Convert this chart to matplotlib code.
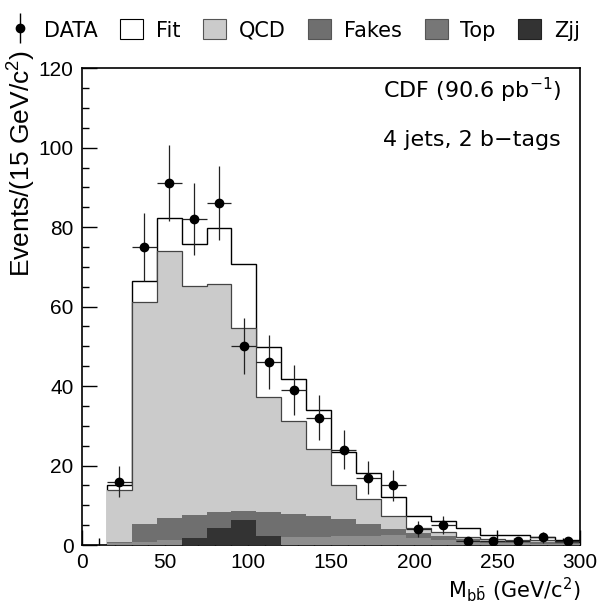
import numpy as np
import matplotlib
matplotlib.use("Agg")
import matplotlib.pyplot as plt
from matplotlib.patches import Patch
from matplotlib.container import ErrorbarContainer
from matplotlib.legend_handler import HandlerErrorbar

# 15 GeV bins from 15 to 300 GeV/c^2
edges = np.arange(15, 301, 15)
data = [16, 75, 91, 82, 86, 50, 46, 39, 32, 24, 17, 15, 4, 5, 1, 1, 1, 2, 1]

# heights of each drawn histogram (each drawn from zero, overlaid)
fit = [15.0, 66.5, 82.2, 75.8, 79.8, 70.7, 49.8, 41.7, 34.1, 23.5, 18.2, 12.0,
       7.2, 6.0, 4.3, 2.5, 2.5, 2.0, 1.3]
qcd = [13.9, 61.1, 73.9, 65.2, 65.7, 54.5, 37.2, 31.1, 24.2, 15.1, 11.7, 7.2,
       4.3, 3.2, 2.0, 1.5, 1.3, 1.2, 0.8]
fakes = [0.8, 5.2, 6.8, 7.7, 8.4, 8.7, 8.4, 7.8, 7.4, 6.6, 5.3, 4.1,
         3.1, 2.2, 1.5, 1.0, 0.8, 0.7, 0.5]
top = [0.5, 0.7, 1.4, 1.6, 1.8, 1.9, 2.0, 2.0, 2.0, 2.2, 2.3, 2.5,
       1.8, 1.2, 0.9, 0.6, 0.5, 0.4, 0.3]
zjj = [0, 0, 0, 1.7, 4.3, 6.2, 2.2, 0, 0, 0, 0, 0, 0, 0, 0, 0, 0, 0, 0]

c_qcd, c_fakes, c_top, c_zjj = "#cbcbcb", "#6f6f6f", "#8e8e8e", "#333333"

fig = plt.figure(figsize=(6.08, 6.03), dpi=100)
ax = fig.add_axes([0.135, 0.096, 0.819, 0.791])

ax.stairs(fit, edges, baseline=0, fill=True, facecolor="white", zorder=1)
ax.stairs(fit, edges, baseline=0, color="black", lw=1.0, zorder=1.1)
ax.stairs(qcd, edges, baseline=0, fill=True, facecolor=c_qcd, zorder=2)
ax.stairs(qcd, edges, baseline=None, color="#444444", lw=0.9, zorder=2.1)
ax.stairs(fakes, edges, baseline=0, fill=True, facecolor=c_fakes, zorder=3)
ax.stairs(top, edges, baseline=0, fill=True, facecolor=c_top, zorder=4)
ax.stairs(zjj, edges, baseline=0, fill=True, facecolor=c_zjj, zorder=5)

centers = (edges[:-1] + edges[1:]) / 2
ax.errorbar(centers, data, yerr=np.sqrt(data), xerr=7.5, fmt="o", color="black",
            ecolor="#222222", elinewidth=0.9, ms=6, capsize=0, zorder=6)

ax.set_xlim(0, 300)
ax.set_ylim(0, 120)
ax.set_xticks(np.arange(0, 301, 50))
ax.set_xticks(np.arange(0, 301, 10), minor=True)
ax.set_yticks(np.arange(0, 121, 20))
ax.set_yticks(np.arange(0, 121, 5), minor=True)
ax.tick_params(which="both", direction="in", top=False, right=False)
ax.tick_params(which="major", length=11, width=1, labelsize=15, pad=6)
ax.tick_params(which="minor", length=5, width=1)
for lab in ax.get_xticklabels() + ax.get_yticklabels():
    lab.set_family("Liberation Sans")
for s in ax.spines.values():
    s.set_linewidth(1.2)

ax.set_xlabel(r"M$_{\mathregular{b\bar{b}}}$ (GeV/c$^{\mathregular{2}}$)", fontsize=15,
              loc="right", labelpad=2)
fig.text(0.033, 1 - 50 / 603, r"Events/(15 GeV/c$^{\mathregular{2}}$)", rotation=90,
         ha="center", va="top", fontsize=19, family="Liberation Sans")

ax.text(181, 114.3, r"CDF (90.6 pb$^{\mathregular{-1}}$)", fontsize=16, va="center")
ax.text(181, 101.8, "4 jets, 2 b\u2212tags", fontsize=16, va="center")

data_h = ax.errorbar([], [], yerr=[], fmt="o", color="black", ms=6, elinewidth=1)
handles = [
    data_h,
    Patch(facecolor="white", edgecolor="black", lw=0.8),
    Patch(facecolor=c_qcd, edgecolor="#555555", lw=0.8),
    Patch(facecolor=c_fakes, edgecolor="#555555", lw=0.8),
    Patch(facecolor="#777777", edgecolor="#555555", lw=0.8),
    Patch(facecolor=c_zjj, edgecolor="#222222", lw=0.8),
]
labels = ["DATA", "Fit", "QCD", "Fakes", "Top", "Zjj"]
fig.legend(handles, labels, loc="center left", bbox_to_anchor=(0.0, 1 - 30 / 603),
           ncol=6, frameon=False, fontsize=15, handlelength=1.1, handleheight=1.1,
           handletextpad=0.6, columnspacing=1.1, borderaxespad=0,
           handler_map={ErrorbarContainer: HandlerErrorbar(yerr_size=0.7)})

fig.savefig("out.png", dpi=100)
